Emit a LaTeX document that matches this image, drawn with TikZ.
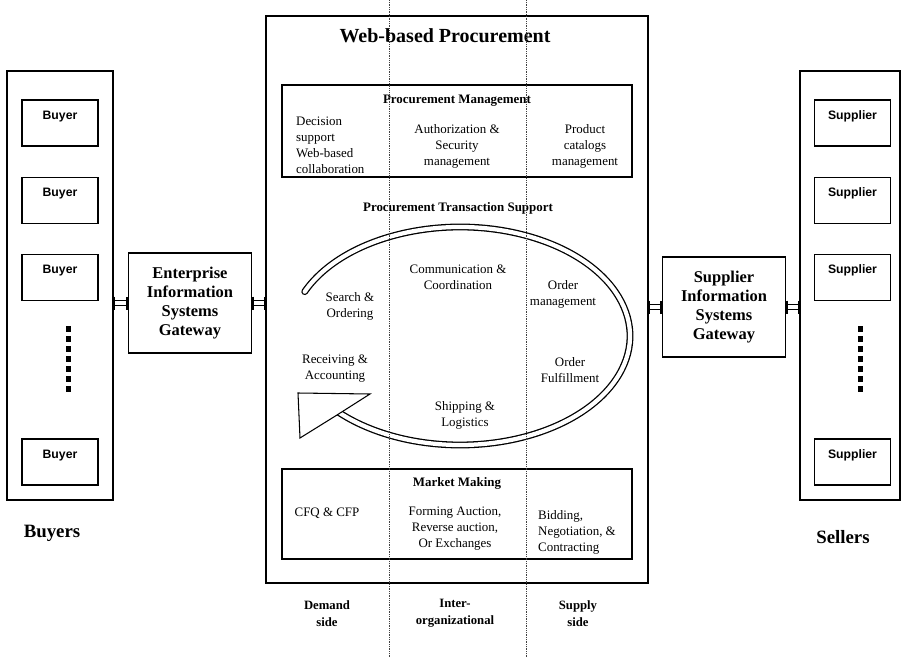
\documentclass[tikz,border=0pt]{standalone}
\usepackage{fontspec}
\setmainfont{Liberation Serif}
\newfontfamily\memberfont{Liberation Sans}
\usepackage{tikz}
\tikzstyle{pPanel} = [rectangle, draw=black, line width=1.2pt, minimum height=364.6pt]
\tikzstyle{pMember} = [rectangle, draw=black, line width=1pt, minimum width=64.6pt, minimum height=39pt, text height=7.4pt, text depth=14pt, font=\memberfont\bfseries\fontsize{10.4}{12}\selectfont]
\tikzstyle{pGateway} = [rectangle, draw=black, line width=1.2pt, minimum width=104.5pt, minimum height=85pt, align=center, font=\bfseries\fontsize{14}{16.4}\selectfont]
\tikzstyle{pFrame} = [rectangle, draw=black, line width=1.2pt, minimum width=324.7pt, minimum height=482pt]
\tikzstyle{pBox} = [rectangle, draw=black, line width=1.1pt, minimum width=297.5pt]
\tikzstyle{pHead} = [align=center, font=\bfseries\fontsize{11}{13}\selectfont]
\tikzstyle{pBody} = [align=center, font=\fontsize{11}{13.6}\selectfont]
\tikzstyle{pSide} = [align=center, font=\bfseries\fontsize{10.8}{14.5}\selectfont]
\tikzstyle{pGroup} = [font=\bfseries\fontsize{16}{19}\selectfont]
\tikzstyle{pLink} = [double, double distance=3pt, line width=1.1pt]
\tikzstyle{pCap} = [line width=2.4pt]
\tikzstyle{pRing} = [double, double distance=3.6pt, line width=1.1pt, line cap=round]
\tikzstyle{pDivider} = [densely dotted, line width=0.5pt, black!75]

\begin{document}
\begin{tikzpicture}[x=0.85pt, y=-0.85pt, node distance=65.8pt]
    \useasboundingbox (0,0) rectangle (903,657);

    \node (buyers) [pPanel, minimum width=90pt] at (60,285.5) {};
    \node (sellers) [pPanel, minimum width=85pt] at (850,285.5) {};

    \node (buyera) [pMember] at (60,123) {Buyer};
    \node (buyerb) [pMember, below of=buyera] {Buyer};
    \node (buyerc) [pMember, below of=buyerb] {Buyer};
    \node (buyerd) [pMember] at (60,462) {Buyer};
    \node (suppliera) [pMember] at (852.5,123) {Supplier};
    \node (supplierb) [pMember, below of=suppliera] {Supplier};
    \node (supplierc) [pMember, below of=supplierb] {Supplier};
    \node (supplierd) [pMember] at (852.5,462) {Supplier};
    \foreach \k in {0,...,6} {
        \fill (65.5,326+\k*10) rectangle ++(5,5.5);
        \fill (857.5,326+\k*10) rectangle ++(5,5.5);
    }

    \node (eisgate) [pGateway] at (190,303) {Enterprise\\Information\\Systems\\Gateway};
    \node (sisgate) [pGateway] at (724,307) {Supplier\\Information\\Systems\\Gateway};

    \node (web) [pFrame] at (457,299.5) {};
    \node (webtitle) [font=\bfseries\fontsize{17}{20}\selectfont] at (445,36) {Web-based Procurement};

    \coordinate (buyerport) at (buyers.east |- eisgate.west);
    \coordinate (webin) at (web.west |- eisgate.east);
    \coordinate (webout) at (web.east |- sisgate.west);
    \coordinate (sellerport) at (sellers.west |- sisgate.east);
    \draw [pLink] (buyerport) -- (eisgate.west);
    \draw [pLink] (eisgate.east) -- (webin);
    \draw [pLink] (webout) -- (sisgate.west);
    \draw [pLink] (sisgate.east) -- (sellerport);
    \foreach \p in {buyerport, eisgate.west, eisgate.east, webin, webout, sisgate.west, sisgate.east, sellerport}
        \draw [pCap] (\p) ++(0,-6.5) -- ++(0,13);

    \node (pmbox) [pBox, minimum height=78pt] at (457,131) {};
    \node (pmtitle) [pHead] at (457,101) {Procurement Management};
    \node (decision) [pBody, align=left, anchor=west] at (292,145.5) {Decision\\support\\Web-based\\collaboration};
    \node (authorization) [pBody] at (457,146.5) {Authorization \&\\Security\\management};
    \node (catalogs) [pBody] at (585,146.5) {Product\\catalogs\\management};

    \node (ptstitle) [pHead] at (458,208) {Procurement Transaction Support};
    \coordinate (ring) at (460,336);
    \draw [pRing] (ring) ++(204:170 and 109) arc [start angle=204, end angle=497, x radius=170, y radius=109];
    \draw [fill=white, line width=0.9pt] (298,393) -- (370,394) -- (337,415) -- (300,438) -- cycle;
    \node (communication) [pBody] at (458,277) {Communication \&\\Coordination};
    \node (search) [pBody] at (350,306.5) {Search \&\\Ordering};
    \node (ordermgmt) [pBody] at (563,294) {Order\\management};
    \node (receiving) [pBody] at (335,369) {Receiving \&\\Accounting};
    \node (fulfillment) [pBody] at (570,370.5) {Order\\Fulfillment};
    \node (shipping) [pBody] at (465,415.5) {Shipping \&\\Logistics};

    \node (mmbox) [pBox, minimum height=76.5pt] at (457,514) {};
    \node (mmtitle) [pHead] at (457,483) {Market Making};
    \node (cfq) [pBody] at (327,513) {CFQ \& CFP};
    \node (forming) [pBody] at (455,529) {Forming Auction,\\Reverse auction,\\Or Exchanges};
    \node (bidding) [pBody, align=left, anchor=west] at (534,532) {Bidding,\\Negotiation, \&\\Contracting};

    \node (demand) [pSide] at (327,613.5) {Demand\\side};
    \node (inter) [pSide] at (455,613.5) {Inter-\\organizational};
    \node (supply) [pSide] at (578,613.5) {Supply\\side};
    \node (buyerslabel) [pGroup] at (52,533) {Buyers};
    \node (sellerslabel) [pGroup] at (843,537) {Sellers};

    \draw [pDivider] (389,0) -- (389,657);
    \draw [pDivider] (526,0) -- (526,657);
\end{tikzpicture}
\end{document}
